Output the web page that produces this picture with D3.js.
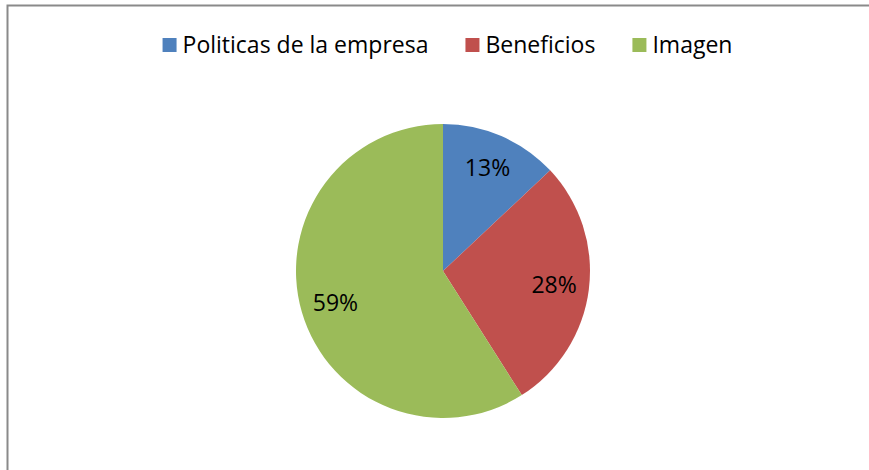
<!DOCTYPE html>
<html>
<head>
<meta charset="utf-8">
<script src="https://cdn.jsdelivr.net/npm/d3@7"></script>
<style>
  body { margin: 0; background: #fff; }
  text { font-family: "Open Sans", Lato, sans-serif; }
</style>
</head>
<body>
<div id="chart"></div>
<script>
const categories = ["Politicas de la empresa", "Beneficios", "Imagen"];
const values = [13, 28, 59];
const colors = ["#4F81BD", "#C0504D", "#9BBB59"];

const width = 869, height = 470;
const cx = 443, cy = 271, radius = 147;

const svg = d3.select("#chart")
  .append("svg")
  .attr("width", width)
  .attr("height", height);

// chart frame, cut off at right and bottom
svg.append("rect")
  .attr("x", 7.5)
  .attr("y", 5.5)
  .attr("width", 900)
  .attr("height", 500)
  .attr("fill", "#fff")
  .attr("stroke", "#8a8a8a")
  .attr("stroke-width", 2);

const pie = d3.pie().sort(null).value(d => d);
const arcs = pie(values);
const arc = d3.arc().innerRadius(0).outerRadius(radius);
const labelArc = d3.arc().innerRadius(112).outerRadius(112);

const g = svg.append("g").attr("transform", `translate(${cx},${cy})`);

g.selectAll("path")
  .data(arcs)
  .join("path")
  .attr("d", arc)
  .attr("fill", (d, i) => colors[i]);

g.selectAll("text")
  .data(arcs)
  .join("text")
  .attr("transform", d => `translate(${labelArc.centroid(d)})`)
  .attr("text-anchor", "middle")
  .attr("dy", "0.36em")
  .attr("font-size", 23)
  .attr("fill", "#000")
  .text(d => d.data + "%");

// legend
const legend = svg.append("g");
let x = 0;
const items = legend.selectAll("g")
  .data(categories)
  .join("g");

items.append("rect")
  .attr("y", -14)
  .attr("width", 14)
  .attr("height", 14)
  .attr("fill", (d, i) => colors[i]);

items.append("text")
  .attr("x", 20)
  .attr("y", 1)
  .attr("font-size", 23)
  .attr("fill", "#000")
  .text(d => d);

items.each(function () {
  const w = d3.select(this).select("text").node().getComputedTextLength();
  d3.select(this).attr("transform", `translate(${x},0)`);
  x += 20 + w + 37;
});
const total = x - 37;
legend.attr("transform", `translate(${447.5 - total / 2},52)`);
</script>
</body>
</html>
